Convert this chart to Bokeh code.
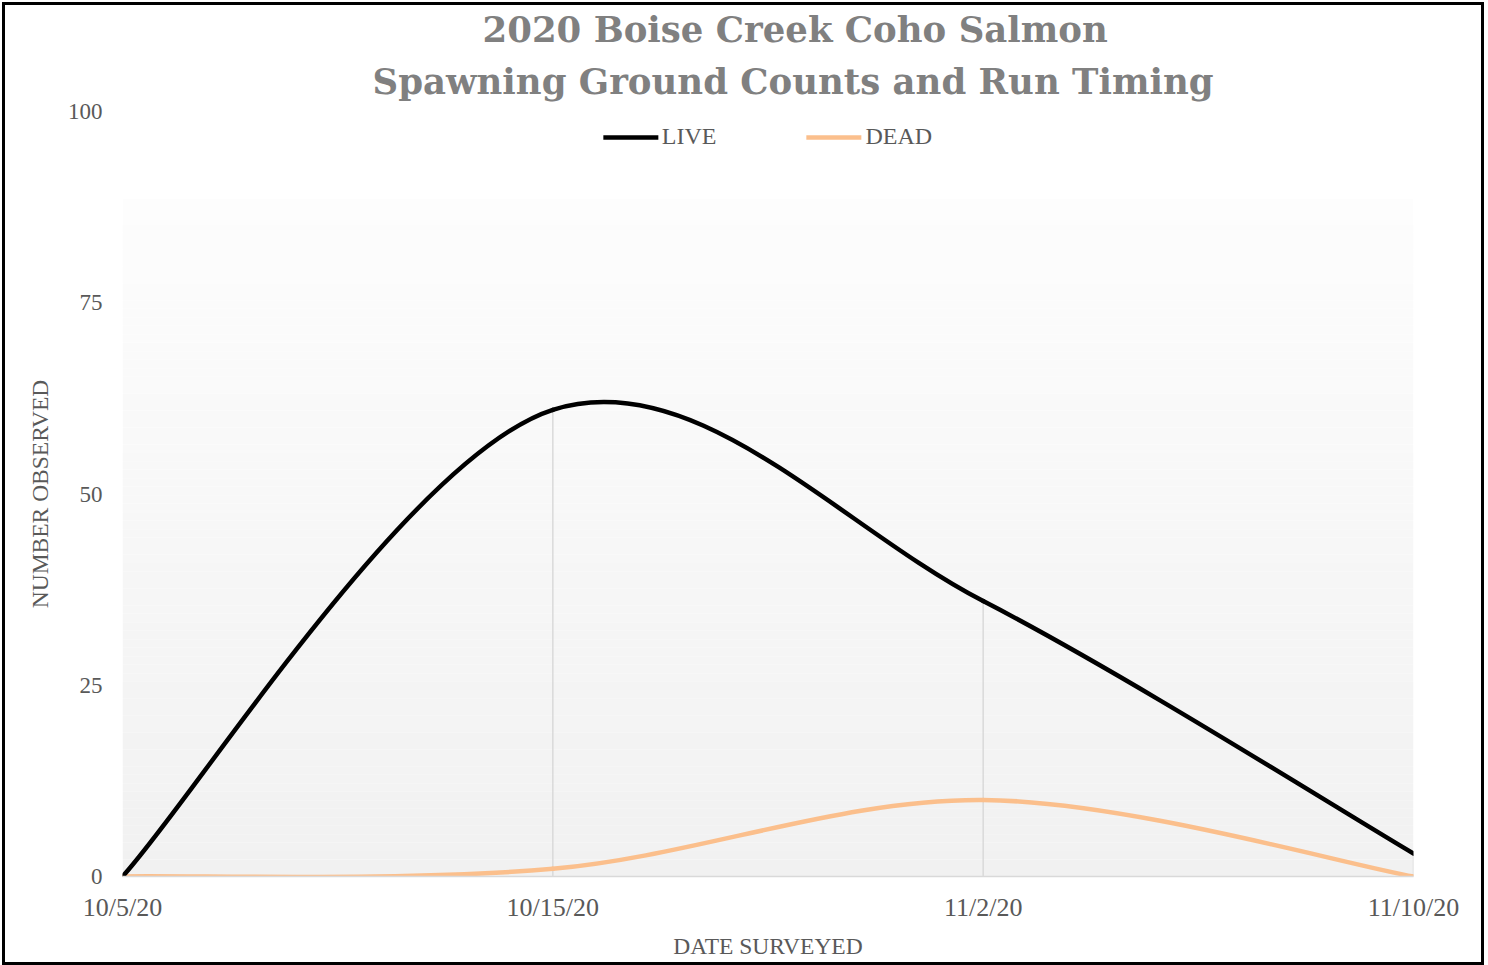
import numpy as np
from bokeh.plotting import figure
from bokeh.models import Range1d, FixedTicker, Legend, LegendItem, Title
from bokeh.embed import file_html
from bokeh.resources import INLINE

# ---- data ----
dates = ["10/5/20", "10/15/20", "11/2/20", "11/10/20"]
live = [0, 61, 36, 3]
dead = [0, 1, 10, 0]
y_ticks = [0, 25, 50, 75, 100]
title_lines = ["2020 Boise Creek Coho Salmon", "Spawning Ground Counts and Run Timing"]

TEXT = "#595959"
FONT = "Liberation Serif"

W, H = 1476, 957
p = figure(width=W, height=H, output_backend="svg", toolbar_location=None,
           x_range=Range1d(0, len(dates) - 1), y_range=Range1d(0, 100),
           min_border_left=117, min_border_right=74, min_border_top=106,
           min_border_bottom=92)
p.styles = {"border": "3px solid black", "box-sizing": "content-box",
            "margin-left": "2px", "margin-top": "2px"}
p.background_fill_color = "white"
p.border_fill_color = "white"
p.outline_line_color = None
p.xgrid.grid_line_color = None
p.ygrid.grid_line_color = None

# titles (second line nearest the plot)
for txt, off, so in [(title_lines[1], 250, 19), (title_lines[0], 360, 0)]:
    t = Title(text=txt, align="left", offset=off, standoff=so,
              text_font="DejaVu Serif", text_font_style="bold",
              text_font_size="35.5px", text_color="#808080")
    p.add_layout(t, "above")

# gradient plot-area fill (styling)
g_top = 88.6
n = 80
edges = np.linspace(0, g_top, n + 1)
c0 = np.array([241, 241, 241])
c1 = np.array([253, 253, 253])
cols = []
for i in range(n):
    t = (i + 0.5) / n
    c = (c0 + (c1 - c0) * t).round().astype(int)
    cols.append("#%02x%02x%02x" % tuple(c))
p.quad(left=0, right=len(dates) - 1, bottom=edges[:-1], top=edges[1:],
       fill_color=cols, line_color=None)

xs = np.arange(len(dates))

# drop lines
p.segment(x0=xs, y0=[0] * len(dates), x1=xs, y1=live, line_color="#d9d9d9", line_width=1.5)


def smooth(vals):
    v = np.asarray(vals, float)
    n = len(v)
    pts = np.column_stack([xs, v])
    x0, y0, x1, y1, cx0, cy0, cx1, cy1 = [], [], [], [], [], [], [], []
    for i in range(n - 1):
        pm = pts[max(i - 1, 0)]
        p0 = pts[i]
        p1 = pts[i + 1]
        p2 = pts[min(i + 2, n - 1)]
        c_a = p0 + (p1 - pm) / 6.0
        c_b = p1 - (p2 - p0) / 6.0
        x0.append(p0[0]); y0.append(p0[1]); x1.append(p1[0]); y1.append(p1[1])
        cx0.append(c_a[0]); cy0.append(c_a[1]); cx1.append(c_b[0]); cy1.append(c_b[1])
    return dict(x0=x0, y0=y0, x1=x1, y1=y1, cx0=cx0, cy0=cy0, cx1=cx1, cy1=cy1)


DEAD_C = "#fbbf8c"
r_dead = p.bezier(line_color=DEAD_C, line_width=4.5, line_cap="round", **smooth(dead))
r_live = p.bezier(line_color="black", line_width=4.5, line_cap="round", **smooth(live))

legend = Legend(items=[LegendItem(label="LIVE", renderers=[r_live], index=0),
                       LegendItem(label="DEAD", renderers=[r_dead], index=0)],
                location="top_center", orientation="horizontal")
legend.background_fill_alpha = 0
legend.border_line_alpha = 0
legend.label_text_font = FONT
legend.label_text_font_size = "24px"
legend.label_text_color = TEXT
legend.glyph_width = 55
legend.glyph_height = 24
legend.label_standoff = 4
legend.spacing = 90
legend.margin = 8
legend.padding = 4
p.add_layout(legend, "center")

# axes
p.xaxis.ticker = FixedTicker(ticks=list(xs))
p.xaxis.major_label_overrides = {int(i): d for i, d in zip(xs, dates)}
p.xaxis.axis_label = "DATE SURVEYED"
p.xaxis.axis_line_color = "#d9d9d9"
p.xaxis.axis_line_width = 1.5
p.xaxis.major_tick_line_color = None
p.xaxis.minor_tick_line_color = None
p.xaxis.major_label_text_font = FONT
p.xaxis.major_label_text_font_size = "26px"
p.xaxis.major_label_text_color = TEXT
p.xaxis.major_label_standoff = 10
p.xaxis.axis_label_text_font = FONT
p.xaxis.axis_label_text_font_size = "23.5px"
p.xaxis.axis_label_text_font_style = "normal"
p.xaxis.axis_label_text_color = TEXT
p.xaxis.axis_label_standoff = 8

p.yaxis.ticker = FixedTicker(ticks=y_ticks)
p.yaxis.axis_label = "NUMBER OBSERVED"
p.yaxis.axis_line_color = None
p.yaxis.major_tick_line_color = None
p.yaxis.minor_tick_line_color = None
p.yaxis.major_label_text_font = FONT
p.yaxis.major_label_text_font_size = "23px"
p.yaxis.major_label_text_color = TEXT
p.yaxis.major_label_standoff = 14
p.yaxis.axis_label_text_font = FONT
p.yaxis.axis_label_text_font_size = "23.5px"
p.yaxis.axis_label_text_font_style = "normal"
p.yaxis.axis_label_text_color = TEXT
p.yaxis.axis_label_standoff = 12

open("out.html", "w").write(file_html(p, INLINE))
